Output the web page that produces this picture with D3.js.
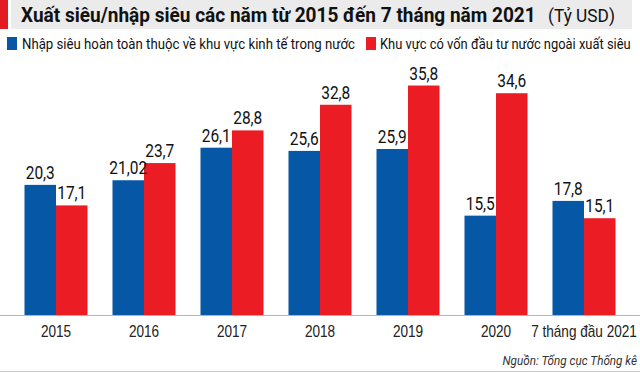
<!DOCTYPE html>
<html>
<head>
<meta charset="utf-8">
<script src="https://cdn.jsdelivr.net/npm/d3@7"></script>
<style>
  body { margin: 0; background: #fff; }
  svg { display: block; font-family: Roboto, "Noto Sans", sans-serif; }
</style>
</head>
<body>
<div class="container"></div>
<script>
const categories = ["2015", "2016", "2017", "2018", "2019", "2020", "7 tháng đầu 2021"];
const domesticValues = [20.3, 21.02, 26.1, 25.6, 25.9, 15.5, 17.8];
const foreignValues = [17.1, 23.7, 28.8, 32.8, 35.8, 34.6, 15.1];
const seriesNames = ["Nhập siêu hoàn toàn thuộc về khu vực kinh tế trong nước", "Khu vực có vốn đầu tư nước ngoài xuất siêu"];
const colors = ["#0657a6", "#ec1c24"];

const width = 640, height = 372;
const svg = d3.select(".container").append("svg").attr("width", width).attr("height", height);

// the original uses a condensed face: put the text at (x,y) and squeeze it horizontally
function squeeze(sel, x, y, k) {
  sel.each(function (d, i) {
    const px = typeof x === "function" ? x(d, i) : x;
    const py = typeof y === "function" ? y(d, i) : y;
    d3.select(this).attr("x", 0).attr("y", 0)
      .attr("transform", "translate(" + px + "," + py + ") scale(" + k + ",1)");
  });
}
// squeeze to a given width
function fitTo(sel, x, y, w) {
  const natural = sel.node().getComputedTextLength();
  squeeze(sel, x, y, w / natural);
}

// title band
svg.append("rect").attr("x", 0).attr("y", 0).attr("width", 8).attr("height", 29).attr("fill", "#e31b23");
svg.append("rect").attr("x", 11).attr("y", 0).attr("width", 621).attr("height", 29).attr("fill", "#ebebeb");
svg.append("text").text("Xuất siêu/nhập siêu các năm từ 2015 đến 7 tháng năm 2021")
  .attr("font-size", 20).attr("font-weight", "bold").attr("fill", "#111")
  .call(fitTo, 21, 22, 515);
svg.append("text").text("(Tỷ USD)")
  .attr("font-size", 19).attr("fill", "#111")
  .call(fitTo, 548, 22, 67);

// legend
const legendX = [[7, 22, 333], [366, 380, 251]];
seriesNames.forEach((name, i) => {
  svg.append("rect").attr("x", legendX[i][0]).attr("y", 37).attr("width", 10).attr("height", 13).attr("fill", colors[i]);
  svg.append("text").text(name)
    .attr("font-size", 14.5).attr("fill", "#111")
    .call(fitTo, legendX[i][1], 48.5, legendX[i][2]);
});

const xScale = d3.scaleBand().domain(categories).range([12, 628]).paddingInner(0.284).paddingOuter(0.142);
const xInner = d3.scaleBand().domain([0, 1]).range([0, xScale.bandwidth()]);
const yScale = d3.scaleLinear().domain([0, 40]).range([315, 58.6]);

const rows = categories.map((c, i) => ({ cat: c, vals: [domesticValues[i], foreignValues[i]] }));

const groups = svg.selectAll("g.group").data(rows).enter().append("g")
  .attr("class", "group")
  .attr("transform", d => "translate(" + xScale(d.cat) + ",0)");

groups.selectAll("rect").data(d => d.vals).enter().append("rect")
  .attr("x", (d, i) => xInner(i))
  .attr("y", d => yScale(d))
  .attr("width", xInner.bandwidth())
  .attr("height", d => yScale(0) - yScale(d))
  .attr("fill", (d, i) => colors[i]);

groups.selectAll("text.val").data(d => d.vals).enter().append("text")
  .attr("class", "val")
  .text(d => String(d).replace(".", ","))
  .attr("text-anchor", "middle")
  .attr("font-size", 18)
  .attr("fill", "#111")
  .call(squeeze, (d, i) => xInner(i) + xInner.bandwidth() / 2, d => yScale(d) - 6, 0.86);

// x axis
const xAxis = d3.axisBottom(xScale).tickSize(0).tickPadding(10);
const ax = svg.append("g").attr("transform", "translate(0," + yScale(0) + ")").call(xAxis);
ax.select(".domain").remove();
ax.selectAll("text").attr("font-size", 16).attr("fill", "#222").attr("dy", "0.75em")
  .attr("y", 0).attr("transform", "translate(0,10) scale(0.85,1)");
svg.append("line").attr("x1", 0).attr("x2", 640).attr("y1", yScale(0) + 0.5).attr("y2", yScale(0) + 0.5)
  .attr("stroke", "#b5b5b5").attr("stroke-width", 1);

// source + bottom rule
svg.append("text").text("Nguồn: Tổng cục Thống kê")
  .attr("text-anchor", "end")
  .attr("font-size", 13).attr("font-style", "italic").attr("fill", "#333")
  .call(squeeze, 637, 365, 0.9);
svg.append("line").attr("x1", 0).attr("x2", 640).attr("y1", 371.5).attr("y2", 371.5)
  .attr("stroke", "#c8c8c8").attr("stroke-width", 1);
</script>
</body>
</html>
